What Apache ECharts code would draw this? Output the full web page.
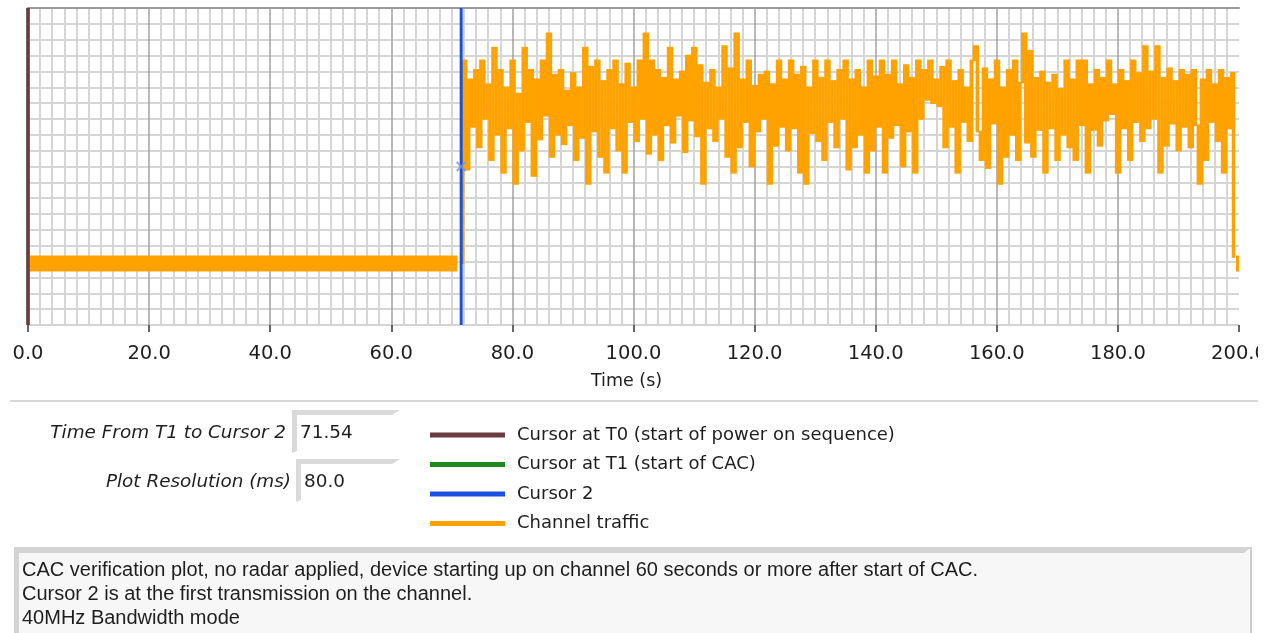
<!DOCTYPE html>
<html>
<head>
<meta charset="utf-8">
<title>CAC verification plot</title>
<script src="https://cdn.jsdelivr.net/npm/echarts@6/dist/echarts.min.js"></script>
<style>
  html, body { margin: 0; padding: 0; background: #ffffff; }
  #chart { width: 1270px; height: 633px; }
</style>
</head>
<body>
<div id="chart"></div>
<script>
(function () {
  'use strict';

  // ---------------------------------------------------------------- data
  const xTicks = [0, 20, 40, 60, 80, 100, 120, 140, 160, 180, 200];

  // cursor positions (s)
  const cursorT0 = 0;
  const cursorT1 = 0;
  const cursor2 = 71.54;
  const cursor2Level = 10;

  // idle band before / after the transmission (s, level)
  const idleBand = [
    [0.3, 3.88], [70.9, 3.88], [71.0, null], [199.5, 3.88], [200.0, 3.88]
  ];

  // channel traffic, one value every 0.5 s from 71.5 s
  const TRAFFIC_START = 71.5;
  const TRAFFIC_STEP = 0.5;
  const trafficValues = [
    3.9, 16.7, 9.8, 15.5, 12.5, 16.1, 11.2, 16.7, 13.0, 15.2,
    10.4, 17.5, 12.0, 16.1, 9.6, 15.0, 12.4, 16.7, 8.9, 14.6,
    11.0, 17.5, 12.8, 16.1, 9.4, 15.5, 11.7, 16.7, 13.2, 18.4,
    10.6, 15.8, 12.0, 16.1, 11.4, 14.8, 12.6, 15.9, 10.4, 15.0,
    11.8, 17.5, 8.9, 16.3, 12.2, 16.7, 10.6, 15.4, 9.6, 16.1,
    12.4, 16.7, 11.0, 15.2, 9.6, 16.5, 12.8, 15.0, 11.6, 16.7,
    13.0, 18.4, 10.8, 16.7, 12.0, 16.1, 10.4, 15.6, 12.6, 17.5,
    11.5, 15.5, 13.2, 16.0, 10.9, 17.0, 12.9, 17.5, 11.9, 16.4,
    8.9, 15.3, 12.4, 16.1, 11.6, 15.0, 13.0, 17.6, 10.6, 16.2,
    9.6, 18.4, 11.2, 15.5, 12.8, 16.7, 10.0, 15.1, 12.2, 15.8,
    13.0, 16.0, 8.9, 15.2, 11.3, 16.7, 12.5, 15.5, 11.0, 16.7,
    12.4, 15.8, 9.6, 16.3, 8.9, 15.0, 12.1, 16.7, 11.6, 15.6,
    10.4, 16.7, 12.8, 15.4, 11.2, 16.1, 13.0, 16.7, 9.8, 15.5,
    11.2, 16.1, 12.0, 15.0, 9.6, 16.7, 11.0, 15.7, 12.5, 16.7,
    9.6, 15.8, 11.8, 16.7, 12.6, 15.2, 10.0, 16.4, 12.2, 15.6,
    9.6, 16.7, 13.0, 16.1, 14.2, 16.7, 14.0, 15.5, 13.8, 16.3,
    11.2, 16.7, 12.5, 15.4, 9.6, 16.1, 12.8, 15.0, 11.6, 16.7,
    17.6, 12.2, 10.4, 16.2, 9.9, 15.5, 12.7, 16.7, 8.9, 15.0,
    10.6, 16.1, 12.0, 16.7, 10.4, 15.3, 18.4, 11.5, 17.3, 10.6,
    15.6, 12.3, 16.0, 9.6, 15.3, 12.4, 15.8, 10.4, 14.9, 12.0,
    16.7, 11.2, 15.5, 10.4, 16.7, 12.6, 16.7, 9.6, 15.2, 12.3,
    16.1, 11.3, 15.6, 12.9, 16.7, 13.3, 15.2, 9.6, 16.1, 12.4,
    15.4, 10.4, 16.7, 12.8, 15.9, 11.6, 17.6, 12.4, 16.0, 13.0,
    17.6, 9.6, 15.6, 11.3, 16.2, 12.7, 15.4, 11.0, 16.1, 12.5,
    15.8, 11.2, 16.1, 12.6, 8.9, 15.5, 10.4, 16.1, 12.8, 15.2,
    11.6, 16.1, 9.6, 15.6, 12.4, 15.9
  ];
  // drop back to idle at the end of the capture
  const trafficTail = [[199.3, 4.3]];

  const legendNames = [
    'Cursor at T0 (start of power on sequence)',
    'Cursor at T1 (start of CAC)',
    'Cursor 2',
    'Channel traffic'
  ];

  const fieldLabels = ['Time From T1 to Cursor 2', 'Plot Resolution (ms)'];
  const fieldValues = ['71.54', '80.0'];

  const noteLines = [
    'CAC verification plot, no radar applied, device starting up on channel 60 seconds or more after start of CAC.',
    'Cursor 2 is at the first transmission on the channel.',
    '40MHz Bandwidth mode'
  ];

  // -------------------------------------------------------------- colours
  const colors = {
    t0: '#6b3b42',
    t1: '#1f8a1f',
    c2: '#1a4fe0',
    traffic: '#ffa200',
    minor: '#d5d5d5',
    major: '#a0a0a0',
    text: '#1e1e1e'
  };
  const FONT = '"DejaVu Sans", Verdana, sans-serif';
  const NOTE_FONT = '20px "Liberation Sans", Arial, sans-serif';

  const Y_MIN = 0;
  const Y_MAX = 20;

  // each plotted column joins one sample to the next one, like the
  // instrument's own trace does when samples are denser than pixels
  const trafficPoints = trafficValues
    .map((v, i) => [TRAFFIC_START + i * TRAFFIC_STEP, v])
    .concat(trafficTail);
  const trafficColumns = trafficPoints.slice(1).map((p, i) => {
    const prev = trafficPoints[i][1];
    return [p[0], Math.min(prev, p[1]), Math.max(prev, p[1])];
  });

  const cursorLine = x => [[x, Y_MIN], [x, Y_MAX]];

  const renderTrafficColumn = (params, api) => {
    const t = api.value(0);
    const top = api.coord([t, api.value(2)]);
    const bottom = api.coord([t, api.value(1)]);
    const w = api.size([TRAFFIC_STEP, 0])[0];
    return {
      type: 'rect',
      shape: {
        x: top[0] - w,
        y: top[1] - 0.8,
        width: w + 0.4,
        height: bottom[1] - top[1] + 1.6
      },
      style: { fill: colors.traffic }
    };
  };

  const chart = echarts.init(document.getElementById('chart'), null, {
    renderer: 'canvas'
  });

  // labelled read-only fields on the left (sunken boxes)
  const fieldGraphics = () => {
    const rows = [433, 482];
    const out = [];
    rows.forEach((y, i) => {
      const boxX = i === 0 ? 292 : 296;
      out.push({
        type: 'polygon',
        shape: { points: [[boxX, y - 23], [400, y - 23], [392, y - 18], [boxX + 5, y - 18], [boxX + 5, y + 18], [boxX, y + 20]] },
        style: { fill: '#d9d9d9' },
        silent: true
      });
      out.push({
        type: 'text',
        x: i === 0 ? 286 : 291,
        y: y,
        style: {
          text: fieldLabels[i],
          font: 'italic 18.4px ' + FONT,
          fill: colors.text,
          align: 'right',
          verticalAlign: 'middle'
        }
      });
      out.push({
        type: 'text',
        x: boxX + 8,
        y: y,
        style: {
          text: fieldValues[i],
          font: '18.4px ' + FONT,
          fill: colors.text,
          align: 'left',
          verticalAlign: 'middle'
        }
      });
    });
    return out;
  };

  const option = {
    animation: false,
    backgroundColor: '#ffffff',
    textStyle: { fontFamily: FONT },
    grid: { left: 28, right: 31, top: 8, bottom: 308, containLabel: false },
    legend: {
      orient: 'vertical',
      left: 425,
      top: 420,
      icon: 'rect',
      itemWidth: 75,
      itemHeight: 5,
      itemGap: 9.5,
      data: legendNames,
      selectedMode: false,
      textStyle: {
        color: colors.text,
        fontSize: 18,
        lineHeight: 20,
        fontFamily: FONT,
        padding: [0, 0, 0, 7]
      }
    },
    xAxis: [
      {
        type: 'value',
        min: xTicks[0],
        max: xTicks[xTicks.length - 1],
        interval: 20,
        offset: 5,
        name: 'Time (s)',
        nameLocation: 'middle',
        nameGap: 42,
        nameTextStyle: { color: colors.text, fontSize: 17.5, fontFamily: FONT, padding: [0, 14, 0, 0] },
        axisLine: { show: false },
        axisTick: { show: true, length: 7, lineStyle: { color: '#333', width: 1.5 } },
        axisLabel: {
          color: colors.text,
          fontSize: 19.5,
          fontFamily: FONT,
          margin: 14,
          formatter: v => v.toFixed(1)
        },
        splitLine: { show: true, showMaxLine: false, lineStyle: { color: colors.major, width: 1.5 } },
        minorTick: { show: false, splitNumber: 10 },
        minorSplitLine: { show: true, lineStyle: { color: colors.minor, width: 2 } }
      },
      {
        type: 'value',
        position: 'top',
        min: xTicks[0],
        max: xTicks[xTicks.length - 1],
        axisLine: { show: true, lineStyle: { color: '#9a9a9a', width: 2 } },
        axisTick: { show: false },
        axisLabel: { show: false },
        splitLine: { show: false }
      }
    ],
    yAxis: {
      type: 'value',
      min: Y_MIN,
      max: Y_MAX,
      interval: 1,
      axisLine: { show: false },
      axisTick: { show: false },
      axisLabel: { show: false },
      splitLine: { show: true, lineStyle: { color: colors.minor, width: 2 } }
    },
    series: [
      {
        name: legendNames[3],
        type: 'line',
        color: colors.traffic,
        data: idleBand,
        connectNulls: false,
        showSymbol: false,
        lineStyle: { color: colors.traffic, width: 16 },
        z: 2
      },
      {
        name: legendNames[3],
        type: 'custom',
        color: colors.traffic,
        data: trafficColumns,
        encode: { x: 0, y: [1, 2] },
        renderItem: renderTrafficColumn,
        silent: true,
        z: 2
      },
      {
        name: legendNames[1],
        type: 'line',
        color: colors.t1,
        data: cursorLine(cursorT1),
        showSymbol: false,
        lineStyle: { color: colors.t1, width: 3 },
        z: 3
      },
      {
        name: legendNames[0],
        type: 'line',
        color: colors.t0,
        data: cursorLine(cursorT0),
        showSymbol: false,
        lineStyle: { color: colors.t0, width: 3.5 },
        z: 4
      },
      {
        name: legendNames[2],
        type: 'line',
        color: colors.c2,
        data: cursorLine(cursor2),
        showSymbol: false,
        lineStyle: { color: colors.c2, width: 3 },
        z: 4
      },
      {
        name: 'cursor2-marker',
        type: 'scatter',
        data: [[cursor2, cursor2Level]],
        symbol: 'path://M0,0L10,10M10,0L0,10',
        symbolSize: 9,
        itemStyle: { color: 'none', borderColor: '#6f95ea', borderWidth: 2 },
        z: 5,
        silent: true
      }
    ],
    graphic: [
      {
        type: 'line',
        shape: { x1: 10, y1: 401, x2: 1258, y2: 401 },
        style: { stroke: '#d8d8d8', lineWidth: 2 },
        silent: true
      },
      // the widget clips the last tick label at its right edge
      {
        type: 'rect',
        shape: { x: 1258, y: 336, width: 12, height: 34 },
        style: { fill: '#ffffff' },
        z: 100,
        silent: true
      },
      ...fieldGraphics(),
      {
        type: 'rect',
        shape: { x: 15, y: 548, width: 1236, height: 90 },
        style: { fill: '#f7f7f7', stroke: '#cfcfcf', lineWidth: 2 },
        silent: true
      },
      {
        type: 'polygon',
        shape: { points: [[15, 547], [1251, 547], [1244, 553], [19, 553], [19, 633], [15, 633]] },
        style: { fill: '#d4d4d4' },
        silent: true
      },
      ...noteLines.map((line, i) => ({
        type: 'text',
        x: 22,
        y: 570 + i * 24,
        style: {
          text: line,
          font: NOTE_FONT,
          fill: colors.text,
          align: 'left',
          verticalAlign: 'middle'
        }
      }))
    ]
  };

  chart.setOption(option);
})();
</script>
</body>
</html>
